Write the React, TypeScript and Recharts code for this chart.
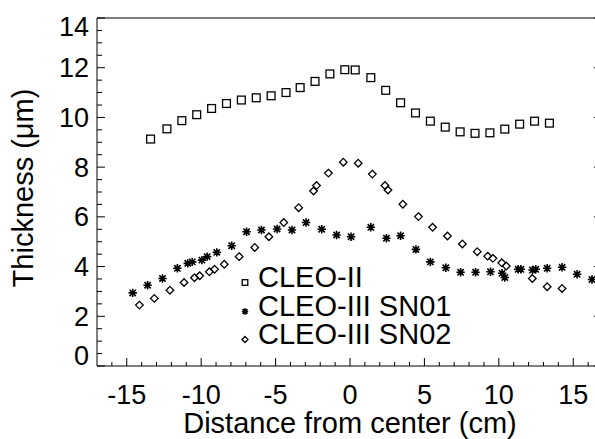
import React from "react";
import { ScatterChart, Scatter, XAxis, YAxis, Legend, Label } from "recharts";

const FONT = '"Liberation Sans", Arial, Helvetica, sans-serif';

// axis ticks
const xMajor = [-15, -10, -5, 0, 5, 10, 15];
const yMajor = [0, 2, 4, 6, 8, 10, 12, 14];
const xTicks = Array.from({ length: 33 }, (_, i) => i - 16);
const yTicks = Array.from({ length: 29 }, (_, i) => i / 2);

// CLEO-II
const cleo2X = [-13.4, -12.3, -11.3, -10.3, -9.3, -8.3, -7.3, -6.3, -5.3, -4.3, -3.35, -2.35, -1.35, -0.35, 0.35, 1.4, 2.4, 3.4, 4.4, 5.4, 6.4, 7.4, 8.4, 9.4, 10.4, 11.4, 12.4, 13.4];
const cleo2Y = [9.13, 9.54, 9.87, 10.11, 10.36, 10.56, 10.7, 10.79, 10.87, 11.0, 11.2, 11.45, 11.75, 11.92, 11.91, 11.6, 11.09, 10.59, 10.18, 9.85, 9.61, 9.42, 9.36, 9.38, 9.53, 9.73, 9.85, 9.77];

// CLEO-III SN01
const sn01X = [-14.6, -13.6, -12.6, -11.6, -10.9, -10.6, -9.95, -9.6, -8.95, -7.95, -6.95, -5.95, -4.9, -3.9, -2.95, -1.9, -0.9, 0.07, 1.4, 2.45, 3.4, 4.43, 5.4, 6.44, 7.43, 8.44, 9.44, 10.22, 10.4, 11.3, 11.48, 12.26, 12.48, 13.25, 14.25, 15.26, 16.26];
const sn01Y = [2.94, 3.25, 3.52, 3.93, 4.13, 4.19, 4.26, 4.4, 4.57, 4.84, 5.4, 5.47, 5.51, 5.47, 5.77, 5.5, 5.27, 5.2, 5.58, 5.14, 5.24, 4.69, 4.19, 3.95, 3.77, 3.77, 3.79, 3.73, 3.56, 3.89, 3.89, 3.86, 3.89, 3.93, 3.97, 3.69, 3.48];

// CLEO-III SN02
const sn02X = [-14.15, -13.15, -12.1, -11.15, -10.45, -10.1, -9.45, -9.1, -8.45, -7.45, -6.4, -5.45, -4.45, -3.45, -2.45, -2.25, -1.45, -0.45, 0.55, 1.5, 2.35, 2.55, 3.55, 4.6, 5.55, 6.55, 7.55, 8.55, 9.25, 9.6, 10.2, 10.5, 12.25, 13.25, 14.25];
const sn02Y = [2.45, 2.72, 3.05, 3.36, 3.55, 3.63, 3.79, 3.89, 4.09, 4.4, 4.77, 5.2, 5.77, 6.37, 7.04, 7.26, 7.76, 8.2, 8.16, 7.72, 7.26, 7.08, 6.51, 6.01, 5.58, 5.23, 4.91, 4.6, 4.42, 4.33, 4.15, 4.02, 3.52, 3.19, 3.12];

const zip = (xs: number[], ys: number[]) => xs.map((x, i) => ({ x, y: ys[i] }));

const square = (cx: number, cy: number, r: number) => (
  <rect x={cx - r} y={cy - r} width={2 * r} height={2 * r} fill="none" stroke="#000" strokeWidth={1.3} />
);
const diamond = (cx: number, cy: number, r: number) => (
  <path d={`M${cx},${cy - r}L${cx + r},${cy}L${cx},${cy + r}L${cx - r},${cy}Z`} fill="none" stroke="#000" strokeWidth={1.3} />
);
const asterisk = (cx: number, cy: number, r: number) => {
  const d = r * 0.75;
  return (
    <path
      d={`M${cx},${cy - r}V${cy + r}M${cx - r},${cy}H${cx + r}M${cx - d},${cy - d}L${cx + d},${cy + d}M${cx - d},${cy + d}L${cx + d},${cy - d}`}
      stroke="#000"
      strokeWidth={1.6}
    />
  );
};

const symbolFor = (name: string, cx: number, cy: number, small: boolean) => {
  if (name === "CLEO-II") return square(cx, cy, small ? 2.8 : 3.9);
  if (name === "CLEO-III SN01") return asterisk(cx, cy, small ? 3.2 : 4.2);
  return diamond(cx, cy, small ? 3 : 3.8);
};

function BottomTick({ x, y, payload }: any) {
  const major = xMajor.includes(payload.value);
  return (
    <g>
      <line x1={x} x2={x} y1={y} y2={y - (major ? 8 : 4)} stroke="#000" />
      {major && (
        <text x={x} y={y + 37.5} textAnchor="middle" fontSize={27} fontFamily={FONT} fill="#000">
          {payload.value}
        </text>
      )}
    </g>
  );
}

function TopTick({ x, y, payload }: any) {
  const major = xMajor.includes(payload.value);
  return <line x1={x} x2={x} y1={y} y2={y + (major ? 7 : 4)} stroke="#000" />;
}

function LeftTick({ x, y, payload }: any) {
  const v = payload.value;
  const major = yMajor.includes(v);
  const shift = v === 14 ? 18 : v === 0 ? -1.5 : 9.5;
  return (
    <g>
      <line x1={x} x2={x + (major ? 8 : 5)} y1={y} y2={y} stroke="#000" />
      {major && (
        <text x={x - 8} y={y + shift} textAnchor="end" fontSize={27} fontFamily={FONT} fill="#000">
          {v}
        </text>
      )}
    </g>
  );
}

function RightTick({ x, y, payload }: any) {
  const major = yMajor.includes(payload.value);
  return <line x1={x} x2={x - (major ? 9 : 5)} y1={y} y2={y} stroke="#000" />;
}

function LegendBox({ payload }: any) {
  return (
    <div style={{ fontFamily: FONT, fontSize: 29, lineHeight: "28.5px", color: "#000" }}>
      {(payload || []).map((entry: any) => (
        <div key={entry.value} style={{ position: "relative", height: 28.5, paddingLeft: 18, whiteSpace: "nowrap" }}>
          <svg width={12} height={28} style={{ position: "absolute", left: 0, top: 0 }}>
            {symbolFor(entry.value, 5, 19.5, true)}
          </svg>
          {entry.value}
        </div>
      ))}
    </div>
  );
}

export default function App() {
  return (
    <div style={{ position: "absolute", left: 0, top: 0, width: 595, height: 439, overflow: "hidden", background: "#fff" }}>
      <ScatterChart width={620} height={439} margin={{ top: 8, right: 7, bottom: 13, left: 7 }}>
        <XAxis
          xAxisId="b"
          type="number"
          dataKey="x"
          orientation="bottom"
          domain={[-17, 17]}
          allowDataOverflow
          ticks={xTicks}
          interval={0}
          height={60}
          tickSize={0}
          tickMargin={0}
          tickLine={false}
          tick={<BottomTick />}
          axisLine={{ stroke: "#000" }}
        >
          <Label
            content={({ viewBox }: any) => (
              <text x={viewBox.x + viewBox.width / 2} y={viewBox.y + 67} textAnchor="middle" fontSize={29} fontFamily={FONT} fill="#000">
                Distance from center (cm)
              </text>
            )}
          />
        </XAxis>
        <XAxis
          xAxisId="t"
          type="number"
          orientation="top"
          domain={[-17, 17]}
          allowDataOverflow
          ticks={xTicks}
          interval={0}
          height={10}
          tickSize={0}
          tickMargin={0}
          tickLine={false}
          tick={<TopTick />}
          axisLine={{ stroke: "#000" }}
        />
        <YAxis
          yAxisId="l"
          type="number"
          dataKey="y"
          domain={[0, 14]}
          allowDataOverflow
          ticks={yTicks}
          interval={0}
          width={90}
          tickSize={0}
          tickMargin={0}
          tickLine={false}
          tick={<LeftTick />}
          axisLine={{ stroke: "#000" }}
        >
          <Label
            content={({ viewBox }: any) => {
              const cx = viewBox.x + viewBox.width - 64;
              const cy = viewBox.y + viewBox.height / 2 - 4;
              return (
                <text x={cx} y={cy} transform={`rotate(-90 ${cx} ${cy})`} textAnchor="middle" fontSize={29} fontFamily={FONT} fill="#000">
                  Thickness (μm)
                </text>
              );
            }}
          />
        </YAxis>
        <YAxis
          yAxisId="r"
          type="number"
          orientation="right"
          domain={[0, 14]}
          allowDataOverflow
          ticks={yTicks}
          interval={0}
          width={10}
          tickSize={0}
          tickMargin={0}
          tickLine={false}
          tick={<RightTick />}
          axisLine={{ stroke: "#000" }}
        />
        <Legend
          layout="vertical"
          align="center"
          verticalAlign="middle"
          content={<LegendBox />}
          wrapperStyle={{ left: 240, top: 263, width: 280, height: 86 }}
        />
        <Scatter
          name="CLEO-II"
          data={zip(cleo2X, cleo2Y)}
          xAxisId="b"
          yAxisId="l"
          isAnimationActive={false}
          shape={(p: any) => symbolFor("CLEO-II", p.cx, p.cy, false)}
        />
        <Scatter
          name="CLEO-III SN01"
          data={zip(sn01X, sn01Y)}
          xAxisId="b"
          yAxisId="l"
          isAnimationActive={false}
          shape={(p: any) => symbolFor("CLEO-III SN01", p.cx, p.cy, false)}
        />
        <Scatter
          name="CLEO-III SN02"
          data={zip(sn02X, sn02Y)}
          xAxisId="b"
          yAxisId="l"
          isAnimationActive={false}
          shape={(p: any) => symbolFor("CLEO-III SN02", p.cx, p.cy, false)}
        />
      </ScatterChart>
    </div>
  );
}
